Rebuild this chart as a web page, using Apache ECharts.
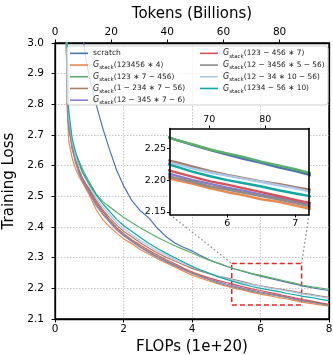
<!DOCTYPE html>
<html><head><meta charset="utf-8">
<script src="https://cdn.jsdelivr.net/npm/echarts@6/dist/echarts.min.js"></script>
<style>html,body{margin:0;padding:0;background:#fff}#c{width:333px;height:355px}</style>
</head><body><div id="c"></div>
<script>
// ---------- data ----------
const flops = [0.3,0.35,0.4,0.5,0.6,0.7,0.8,0.9,1.0,1.2,1.4,1.6,1.8,2.0,2.25,2.5,2.75,3.0,3.25,3.5,3.75,4.0,4.25,4.5,4.75,5.0,5.25,5.5,5.75,6.0,6.25,6.5,6.75,7.0,7.25,7.5,7.75,8.0];
const seriesNames = ['scratch','G_stack(123456 ∗ 4)','G_stack(123 ∗ 7 − 456)','G_stack(1 − 234 ∗ 7 − 56)','G_stack(12 − 345 ∗ 7 − 6)','G_stack(123 − 456 ∗ 7)','G_stack(12 − 3456 ∗ 5 − 56)','G_stack(12 − 34 ∗ 10 − 56)','G_stack(1234 − 56 ∗ 10)'];
const scratch   = [4.5,4.2,3.95,3.6,3.35,3.16,3.03,2.95,2.89,2.80,2.72,2.65,2.585,2.535,2.485,2.452,2.428,2.395,2.368,2.348,2.334,2.322,2.307,2.293,2.282,2.272,2.263,2.255,2.247,2.240,2.233,2.227,2.220,2.214,2.207,2.202,2.197,2.193];
const g123456x4 = [3.5,2.80,2.68,2.625,2.59,2.565,2.545,2.525,2.505,2.457,2.423,2.40,2.38,2.362,2.345,2.326,2.311,2.296,2.283,2.27,2.256,2.243,2.233,2.224,2.215,2.207,2.200,2.194,2.187,2.181,2.176,2.170,2.166,2.160,2.154,2.150,2.146,2.142];
const g123x7_456 = [3.5,3.05,2.72,2.67,2.64,2.615,2.59,2.567,2.547,2.508,2.482,2.465,2.448,2.432,2.414,2.397,2.381,2.366,2.352,2.339,2.327,2.315,2.303,2.292,2.283,2.273,2.263,2.256,2.248,2.242,2.236,2.229,2.223,2.217,2.210,2.205,2.201,2.197];
const g1_234x7_56 = [3.3,2.82,2.73,2.66,2.62,2.585,2.56,2.54,2.525,2.487,2.456,2.43,2.406,2.386,2.367,2.348,2.331,2.315,2.301,2.289,2.277,2.265,2.256,2.248,2.240,2.234,2.228,2.221,2.214,2.208,2.203,2.198,2.194,2.189,2.184,2.180,2.175,2.171];
const g12_345x7_6 = [3.3,2.84,2.73,2.655,2.61,2.575,2.55,2.53,2.51,2.47,2.44,2.415,2.391,2.372,2.352,2.333,2.316,2.301,2.287,2.274,2.261,2.249,2.239,2.230,2.222,2.214,2.207,2.200,2.194,2.188,2.183,2.177,2.172,2.166,2.160,2.156,2.151,2.146];
const g123_456x7 = [3.3,2.85,2.74,2.665,2.62,2.585,2.56,2.54,2.52,2.48,2.45,2.422,2.398,2.378,2.358,2.340,2.323,2.308,2.293,2.280,2.266,2.253,2.243,2.234,2.226,2.219,2.212,2.205,2.198,2.193,2.187,2.181,2.175,2.169,2.163,2.158,2.153,2.148];
const g12_3456x5_56 = [3.3,2.83,2.735,2.66,2.615,2.58,2.555,2.533,2.513,2.475,2.443,2.418,2.393,2.374,2.354,2.335,2.318,2.303,2.289,2.276,2.263,2.250,2.238,2.228,2.218,2.210,2.203,2.197,2.190,2.185,2.180,2.175,2.170,2.164,2.158,2.154,2.149,2.145];
const g12_34x10_56 = [3.4,2.95,2.76,2.68,2.63,2.60,2.575,2.555,2.535,2.495,2.465,2.44,2.415,2.395,2.375,2.355,2.338,2.322,2.308,2.295,2.282,2.270,2.260,2.250,2.240,2.232,2.225,2.218,2.212,2.207,2.202,2.197,2.192,2.187,2.181,2.177,2.172,2.168];
const g1234_56x10 = [3.4,3.0,2.78,2.69,2.645,2.61,2.58,2.56,2.54,2.505,2.475,2.45,2.425,2.405,2.385,2.365,2.346,2.329,2.314,2.300,2.286,2.272,2.260,2.249,2.238,2.229,2.221,2.213,2.206,2.200,2.195,2.190,2.184,2.179,2.174,2.170,2.164,2.160];
const seriesValues = [scratch,g123456x4,g123x7_456,g1_234x7_56,g12_345x7_6,g123_456x7,g12_3456x5_56,g12_34x10_56,g1234_56x10];
const tokensPerFlop = 12.2;
const xTickValues = [0,2,4,6,8];
const yRange = [2.1, 3.0];
const zoomX = [5.16, 7.2];
const zoomY = [2.146, 2.281];
const insetXTicks = [6, 7];
const insetYTicks = [2.15, 2.20, 2.25];
const insetTokenTicks = [70, 80];

// ---------- style ----------
const FONT = 'DejaVu Sans';
const colors = ['#4C72B0','#E8894F','#5BAF6A','#A47D66','#8A7CC4','#D1545A','#8C8C8C','#AEC7E8','#12A7A3'];
const main = {left:55, top:43, width:274, height:276};
const inset = {left:170, top:128.5, width:139, height:86};

function fmt(name){
  const m = name.match(/^G_stack(.*)$/);
  if(!m) return name;
  return '{g|G}{s|stack}{t|' + m[1] + '}';
}
const rich = {
  g:{fontStyle:'italic', fontSize:8, lineHeight:11.7, fontFamily:FONT, color:'#222'},
  s:{fontSize:5.5, lineHeight:11.7, verticalAlign:'bottom', fontFamily:FONT, color:'#222'},
  t:{fontSize:7.4, lineHeight:11.7, fontFamily:FONT, color:'#222'}
};
function legend(names, left){
  return {data:names, orient:'vertical', left:left, top:47.5, itemWidth:18, itemHeight:1.6, icon:'rect',
    itemGap:0, selectedMode:false, z:20, padding:0,
    textStyle:{fontFamily:FONT, fontSize:7.6, color:'#222', lineHeight:11.7, rich:rich}, formatter:fmt};
}
const gridLine = {color:'#b8b8b8', type:[1.5,1.5], width:0.8};

const series = [];
seriesValues.forEach((vals,i)=>{
  const data = flops.map((x,j)=>[x, vals[j]]);
  series.push({type:'line', name:seriesNames[i], xAxisIndex:0, yAxisIndex:0, data:data, showSymbol:false,
    lineStyle:{width:1.2, color:colors[i]}, itemStyle:{color:colors[i]}, z:2, clip:true});
  series.push({type:'line', name:seriesNames[i], xAxisIndex:2, yAxisIndex:1, data:data, showSymbol:false,
    lineStyle:{width:2.4, color:colors[i]}, itemStyle:{color:colors[i]}, z:10, clip:true});
});
// inset gridlines
series.push({type:'line', name:'_insetgrid', xAxisIndex:2, yAxisIndex:1, data:[], z:9, silent:true,
  markLine:{silent:true, symbol:['none','none'], label:{show:false}, lineStyle:gridLine, animation:false,
    data: insetXTicks.map(v=>({xAxis:v})).concat(insetYTicks.map(v=>({yAxis:v})))}});
// zoom rectangle
series.push({type:'line', name:'_zoom', xAxisIndex:0, yAxisIndex:0, data:[], z:3, silent:true,
  markArea:{silent:true, itemStyle:{color:'rgba(0,0,0,0)', borderColor:'#EE2222', borderWidth:1.5, borderType:[5,3]},
    data:[[{coord:[zoomX[0], zoomY[1]]},{coord:[zoomX[1], zoomY[0]]}]]}});

const axisBase = {axisLine:{show:true, onZero:false, lineStyle:{color:'#000', width:1.3}},
  axisTick:{show:true, length:3.5, lineStyle:{color:'#000', width:1}}};
const mainSplit = {show:true, showMinLine:false, showMaxLine:false, lineStyle:gridLine};

const option = {
  animation:false,
  backgroundColor:'#fff',
  grid:[
    {left:main.left, top:main.top, width:main.width, height:main.height, show:true, borderColor:'#000', borderWidth:1.3, containLabel:false, outerBoundsMode:'none'},
    {left:inset.left, top:inset.top, width:inset.width, height:inset.height, containLabel:false, outerBoundsMode:'none'}
  ],
  xAxis:[
    Object.assign({type:'value', gridIndex:0, min:xTickValues[0], max:xTickValues[xTickValues.length-1], interval:2, position:'bottom',
      axisLabel:{color:'#000', fontSize:10.5, fontFamily:FONT, margin:5},
      splitLine:mainSplit,
      name:'FLOPs (1e+20)', nameLocation:'middle', nameGap:19, nameTextStyle:{fontSize:15, color:'#000', fontFamily:FONT}}, axisBase),
    Object.assign({type:'value', gridIndex:0, min:0, max:xTickValues[xTickValues.length-1]*tokensPerFlop, interval:20, position:'top',
      axisLabel:{color:'#000', fontSize:10.5, fontFamily:FONT, margin:5, showMaxLabel:false},
      splitLine:{show:false},
      name:'Tokens (Billions)', nameLocation:'middle', nameGap:21, nameTextStyle:{fontSize:15, color:'#000', fontFamily:FONT}}, axisBase),
    {type:'value', gridIndex:1, min:zoomX[0], max:zoomX[1], position:'bottom', z:11,
      axisLine:{show:true, onZero:false, lineStyle:{color:'#000', width:1.6}},
      axisTick:{show:true, customValues:insetXTicks, length:3, lineStyle:{color:'#000'}},
      axisLabel:{customValues:insetXTicks, color:'#000', fontSize:9.5, fontFamily:FONT, margin:4},
      splitLine:{show:false}},
    {type:'value', gridIndex:1, min:zoomX[0]*tokensPerFlop, max:zoomX[1]*tokensPerFlop, position:'top', z:11,
      axisLine:{show:true, onZero:false, lineStyle:{color:'#000', width:1.6}},
      axisTick:{show:true, customValues:insetTokenTicks, length:3, lineStyle:{color:'#000'}},
      axisLabel:{customValues:insetTokenTicks, color:'#000', fontSize:9.5, fontFamily:FONT, margin:4},
      splitLine:{show:false}}
  ],
  yAxis:[
    Object.assign({type:'value', gridIndex:0, min:yRange[0], max:yRange[1], interval:0.1, position:'left',
      axisLabel:{color:'#000', fontSize:10.5, fontFamily:FONT, margin:11, formatter:v=>v.toFixed(1)},
      splitLine:mainSplit,
      name:'Training Loss', nameLocation:'middle', nameGap:29, nameTextStyle:{fontSize:15, color:'#000', fontFamily:FONT}}, axisBase),
    {type:'value', gridIndex:1, min:zoomY[0], max:zoomY[1], position:'left', z:11,
      axisLine:{show:true, onZero:false, lineStyle:{color:'#000', width:1.6}},
      axisTick:{show:true, customValues:insetYTicks, length:3, lineStyle:{color:'#000'}},
      axisLabel:{customValues:insetYTicks, color:'#000', fontSize:9.5, fontFamily:FONT, margin:4, formatter:v=>v.toFixed(2)},
      splitLine:{show:false}},
    {type:'value', gridIndex:1, min:zoomY[0], max:zoomY[1], position:'right', z:11,
      axisLine:{show:true, onZero:false, lineStyle:{color:'#000', width:1.6}},
      axisTick:{show:false}, axisLabel:{show:false}, splitLine:{show:false}},
    {type:'value', gridIndex:0, min:yRange[0], max:yRange[1], position:'right', z:3,
      axisLine:{show:true, onZero:false, lineStyle:{color:'#000', width:1.3}},
      axisTick:{show:false}, axisLabel:{show:false}, splitLine:{show:false}}
  ],
  legend:[legend(seriesNames.slice(0,5), 70), legend(seriesNames.slice(5), 200)],
  series:series
};
const chart = echarts.init(document.getElementById('c'), null, {renderer:'canvas'});
chart.setOption(option);
// connector lines from inset bottom corners to the zoom rectangle's top corners
const pTL = chart.convertToPixel({gridIndex:0}, [zoomX[0], zoomY[1]]);
const pTR = chart.convertToPixel({gridIndex:0}, [zoomX[1], zoomY[1]]);
const connStyle = {stroke:'#888', lineWidth:1.3, lineDash:[1.5,2.5]};
chart.setOption({graphic:[
  {type:'rect', z:15, shape:{x:67, y:46, width:261, height:59, r:3}, style:{fill:'rgba(255,255,255,0.8)', stroke:'#d0d0d0', lineWidth:1}},
  {type:'rect', z:5, shape:{x:inset.left, y:inset.top, width:inset.width, height:inset.height}, style:{fill:'#fff', stroke:null}},
  {type:'line', z:4, shape:{x1:inset.left, y1:inset.top+inset.height, x2:pTL[0], y2:pTL[1]}, style:connStyle},
  {type:'line', z:4, shape:{x1:inset.left+inset.width, y1:inset.top+inset.height, x2:pTR[0], y2:pTR[1]}, style:connStyle}
]});
</script></body></html>
